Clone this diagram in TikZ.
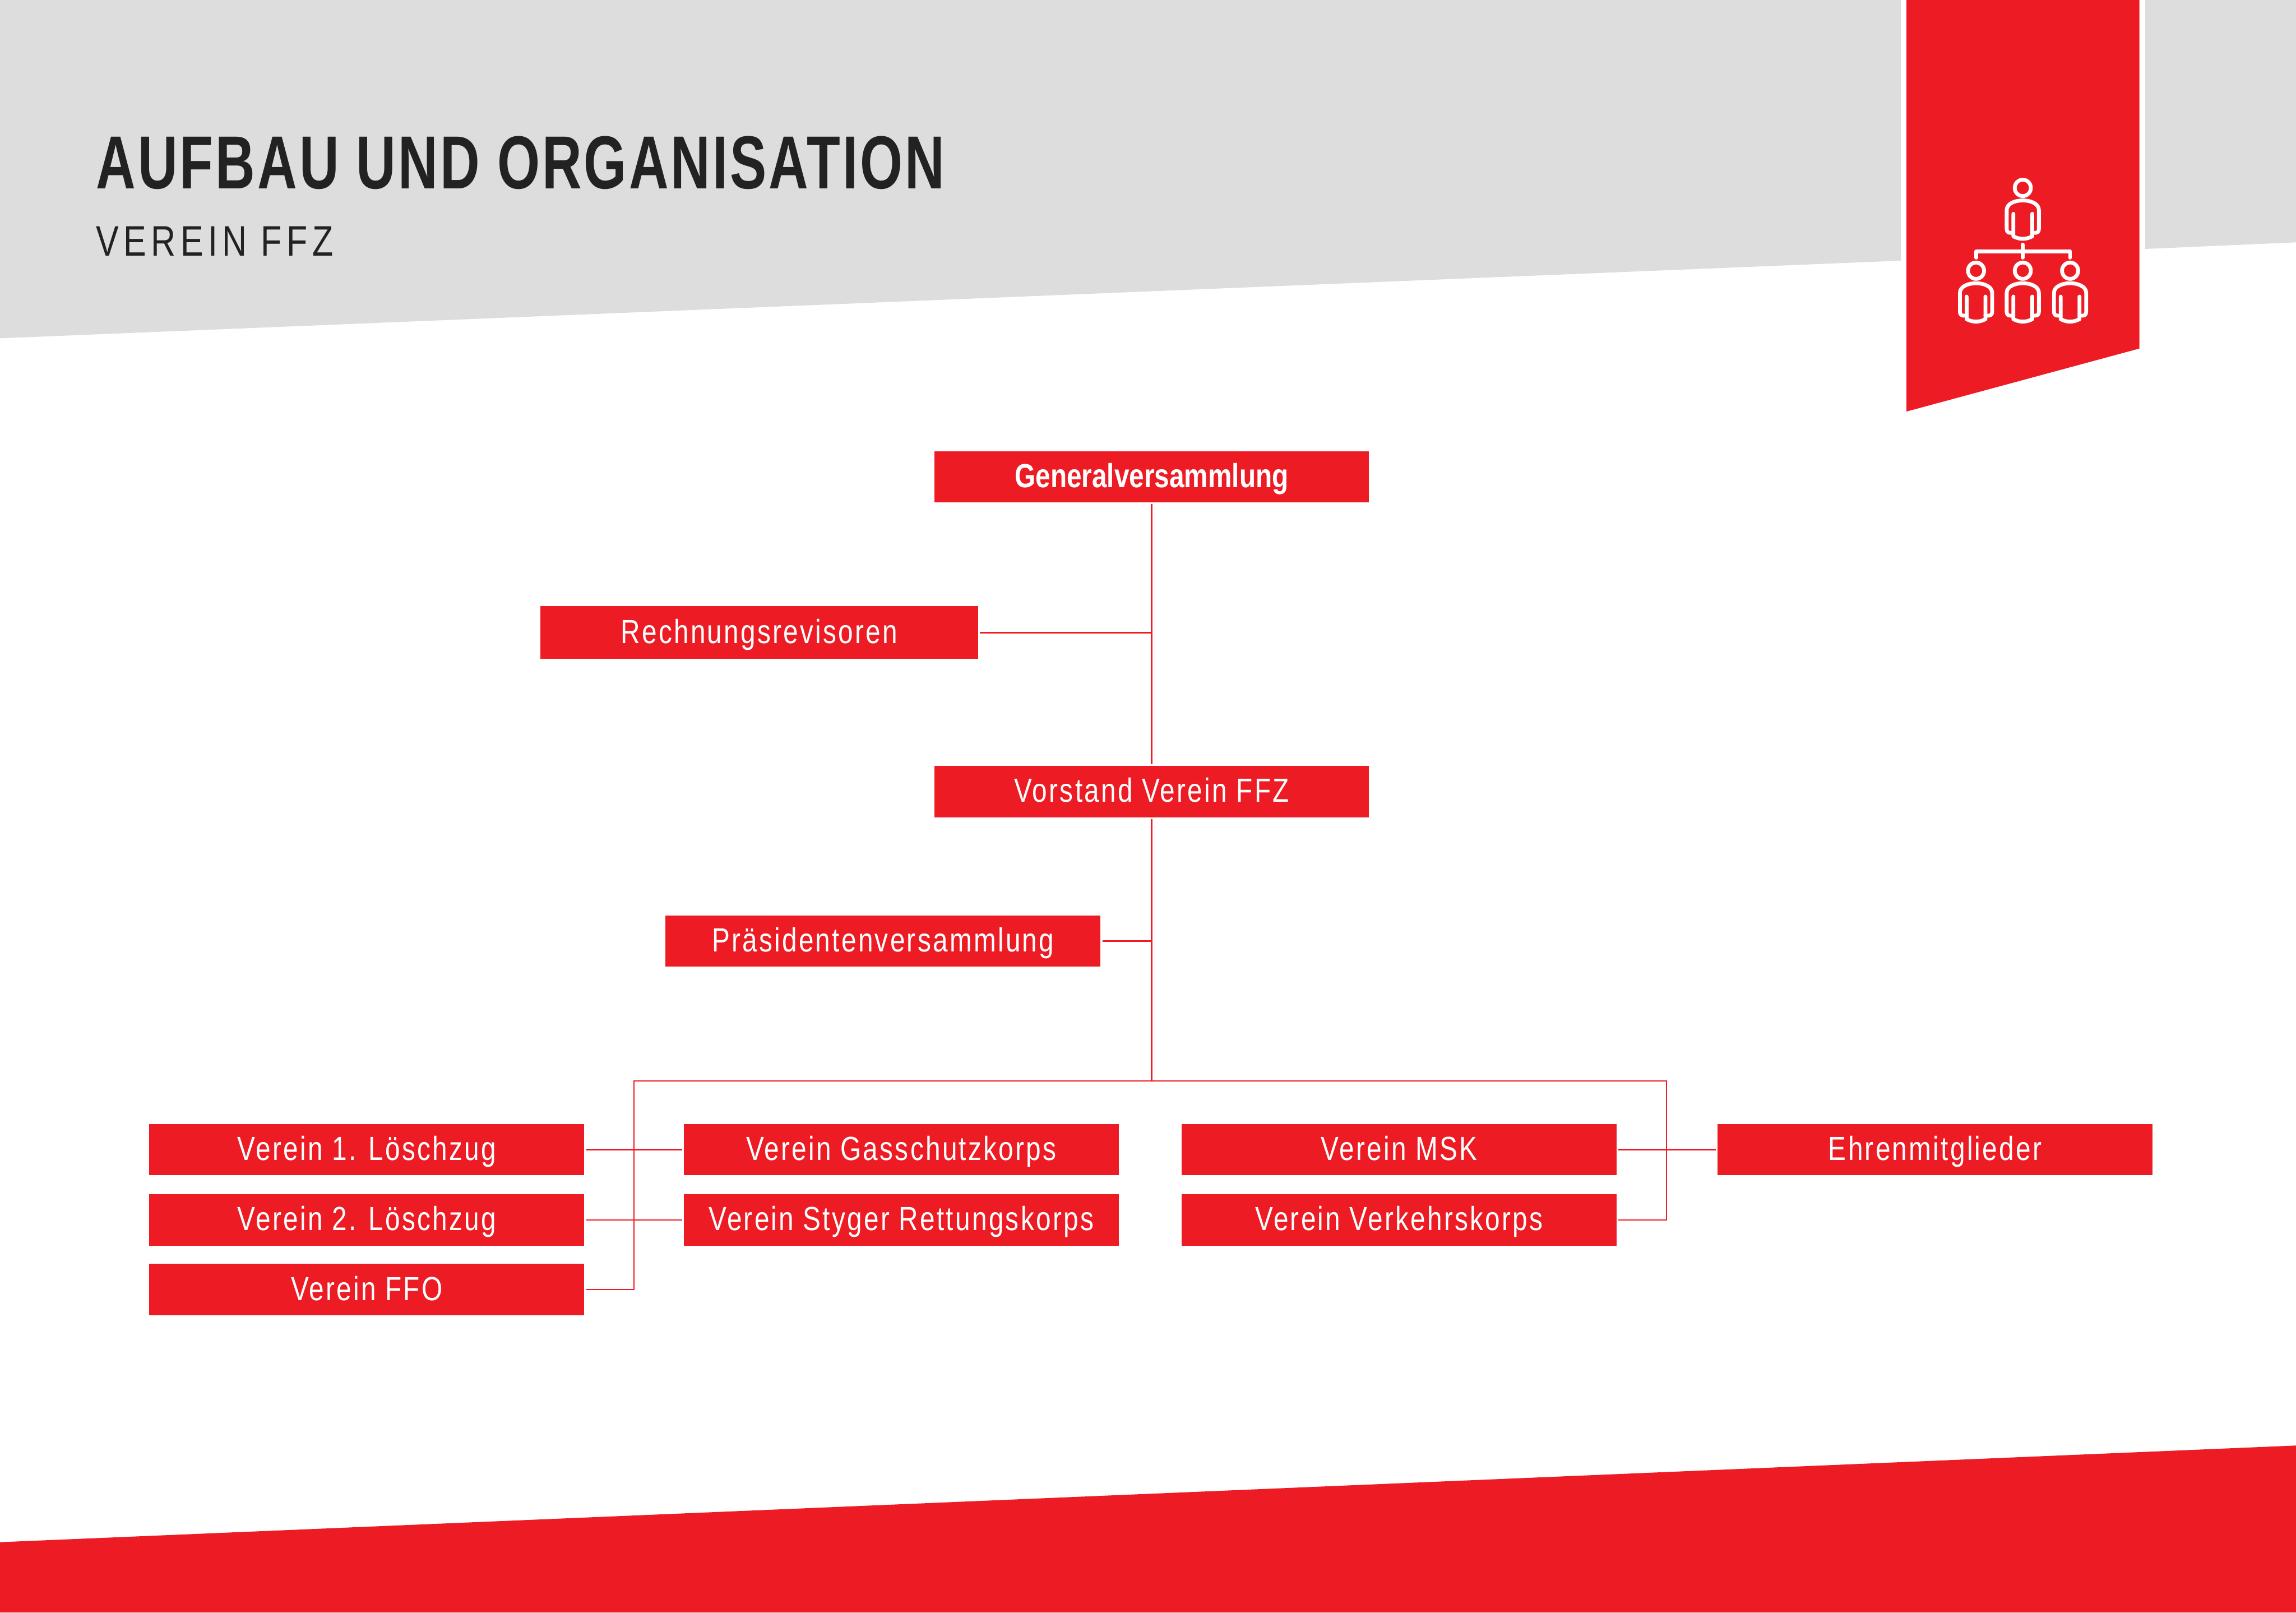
\documentclass[tikz,border=0pt]{standalone}
\usepackage{fontspec}
\setmainfont[FakeStretch=0.80,LetterSpace=5.5]{Liberation Sans}
\newfontfamily\titlefont[FakeStretch=0.73,LetterSpace=3]{Liberation Sans}
\newfontfamily\subfont[FakeStretch=0.80,LetterSpace=11]{Liberation Sans}
\newfontfamily\strongfont[FakeStretch=0.80]{Liberation Sans}
\usepackage{tikz}
\usetikzlibrary{calc}
\usetikzlibrary{positioning}
\definecolor{ffzred}{HTML}{ED1C24}
\definecolor{ffzgray}{HTML}{DDDDDD}
\definecolor{ffzdark}{HTML}{222222}
\tikzset{block/.style={rectangle, fill=ffzred, text=white, text centered, inner sep=0pt, outer sep=0.013cm, minimum height=0.35cm, minimum width=2.97cm, text height=1.45mm, text depth=0pt, font=\fontsize{6.5}{7.5}\selectfont}}
\tikzset{connect/.style={draw=ffzred, line width=0.25pt}}
\tikzset{iconline/.style={draw=white, line width=0.74pt, line cap=round, line join=round}}
\tikzset{person/.pic={
  \draw[iconline] (0,0) circle (30);
  \draw[iconline] (-35,95) -- (-35,178) .. controls (-12,190) and (12,190) .. (35,178) -- (35,95);
  \draw[iconline] (-35,165) -- (-47,165) .. controls (-55,165) and (-60,160) .. (-60,150) -- (-60,82) .. controls (-60,58) and (-30,46) .. (0,46) .. controls (30,46) and (60,58) .. (60,82) -- (60,150) .. controls (60,160) and (55,165) .. (47,165) -- (35,165);
}}

\begin{document}
\begin{tikzpicture}
\useasboundingbox (0,0) rectangle (15.68,-11.01);

%grey band and bottom band
\fill[ffzgray] (0,0) -- (12.98,0) -- (12.98,-1.78) -- (0,-2.31) -- cycle;
\fill[ffzgray] (14.65,0) -- (15.68,0) -- (15.68,-1.655) -- (14.65,-1.70) -- cycle;
\fill[ffzred] (0,-10.53) -- (15.68,-9.87) -- (15.68,-11.01) -- (0,-11.01) -- cycle;

%ribbon
\fill[ffzred] (13.02,0) -- (14.61,0) -- (14.61,-2.38) -- (13.02,-2.81) -- cycle;

%title
\node[anchor=base west, inner sep=0pt, text=ffzdark, font=\titlefont\fontsize{14.6}{17}\selectfont\bfseries] (title) at (0.65,-1.29) {AUFBAU UND ORGANISATION};
\node[anchor=base west, inner sep=0pt, text=ffzdark, font=\subfont\fontsize{8.3}{10}\selectfont] (subtitle) at (0.65,-1.748) {VEREIN FFZ};

%icon
\begin{scope}[x=0.01836mm,y=-0.0186mm,shift={(13.814cm,-1.283cm)}]
\pic at (0,0) {person};
\pic at (-174,304) {person};
\pic at (0,304) {person};
\pic at (176,304) {person};
\draw[iconline] (-174,256) -- (-174,233) -- (176,233) -- (176,256);
\draw[iconline] (0,208) -- (0,256);
\end{scope}

%top blocks
\node[block, font=\strongfont\fontsize{6.5}{7.5}\selectfont\bfseries] (general) at (7.865,-3.255) {Generalversammlung};
\node[block, minimum height=0.36cm, minimum width=2.99cm] (revisoren) at ([xshift=-2.68cm,yshift=-1.065cm]general) {Rechnungsrevisoren};
\node[block] (vorstand) at ([yshift=-2.15cm]general) {Vorstand Verein FFZ};
\node[block] (praesidenten) at ([xshift=-1.835cm,yshift=-1.02cm]vorstand) {Präsidentenversammlung};

%first column
\node[block] (zug1) at (2.505,-7.85) {Verein 1. Löschzug};
\node[block] (zug2) at ([yshift=-0.48cm]zug1) {Verein 2. Löschzug};
\node[block] (ffo) at ([yshift=-0.955cm]zug1) {Verein FFO};

%second column
\node[block] (gas) at ([xshift=3.65cm]zug1) {Verein Gasschutzkorps};
\node[block] (styger) at ([xshift=3.65cm]zug2) {Verein Styger Rettungskorps};

%third column
\node[block] (msk) at ([xshift=3.4cm]gas) {Verein MSK};
\node[block] (verkehr) at ([xshift=3.4cm]styger) {Verein Verkehrskorps};

%last block
\node[block] (ehren) at ([xshift=3.66cm]msk) {Ehrenmitglieder};

%branch points
\coordinate (splitleft) at (4.33,-7.38);
\coordinate (splitright) at (11.38,-7.38);

%connections
\path[connect] (general.south) -- (vorstand.north);
\path[connect] (revisoren.east) -- (revisoren.east -| general.south);
\path[connect] (vorstand.south) -- (vorstand.south |- splitleft);
\path[connect] (praesidenten.east) -- (praesidenten.east -| vorstand.south);
\path[connect] (ffo.east) -| (splitleft) -- (splitright) |- (verkehr.east);
\path[connect] (zug1.east) -- (gas.west);
\path[connect] (zug2.east) -- (styger.west);
\path[connect] (msk.east) -- (ehren.west);

\end{tikzpicture}
\end{document}
